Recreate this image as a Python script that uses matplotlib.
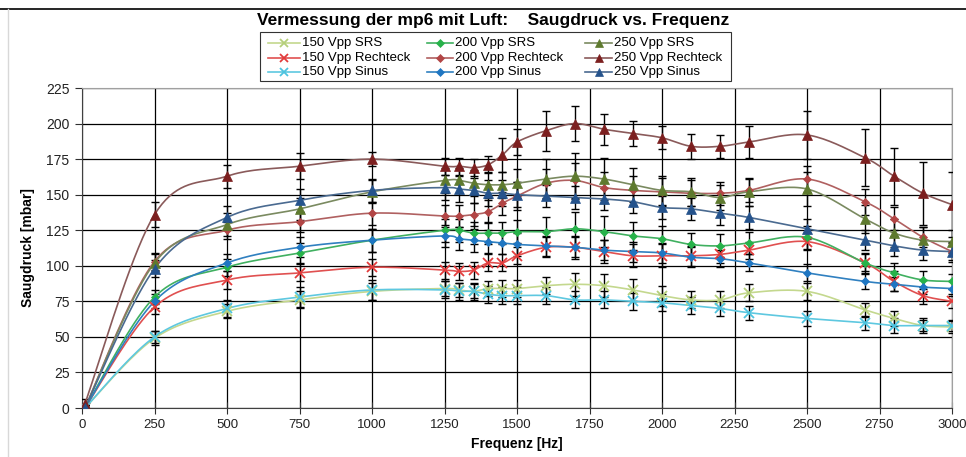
import numpy as np
import matplotlib
matplotlib.use("Agg")
import matplotlib.pyplot as plt
from matplotlib.lines import Line2D
from matplotlib.patches import Rectangle

plt.rcParams['font.family'] = ['Liberation Sans', 'DejaVu Sans']

freq = [10, 250, 500, 750, 1000, 1250, 1300, 1350, 1400, 1450, 1500, 1600, 1700,
        1800, 1900, 2000, 2100, 2200, 2300, 2500, 2700, 2800, 2900, 3000]

v150_srs = [0, 49, 68, 76, 82, 84, 83, 82, 84, 84, 84, 86, 87, 86, 83, 79, 76, 76, 81, 82, 69, 63, 58, 57]
v150_re  = [0, 71, 90, 95, 99, 97, 96, 97, 102, 102, 107, 113, 113, 110, 107, 107, 107, 108, 111, 117, 102, 89, 79, 75]
v150_sin = [0, 50, 70, 78, 83, 83, 82, 82, 80, 79, 79, 79, 76, 76, 75, 74, 72, 70, 67, 63, 60, 58, 58, 58]
v200_srs = [0, 78, 99, 109, 118, 125, 125, 123, 123, 123, 124, 124, 126, 124, 121, 119, 115, 114, 116, 120, 102, 95, 90, 89]
v200_re  = [0, 103, 125, 131, 137, 135, 135, 136, 138, 144, 149, 158, 160, 155, 153, 152, 151, 151, 153, 161, 145, 133, 120, 110]
v200_sin = [0, 75, 102, 113, 118, 121, 119, 118, 117, 116, 115, 114, 113, 111, 110, 109, 106, 105, 102, 95, 89, 87, 85, 84]
v250_srs = [0, 102, 129, 140, 152, 160, 160, 158, 157, 157, 158, 161, 163, 161, 157, 153, 152, 148, 152, 154, 133, 123, 118, 117]
v250_re  = [3, 136, 163, 170, 175, 170, 170, 169, 171, 178, 187, 195, 200, 196, 193, 190, 184, 184, 187, 192, 176, 163, 151, 143]
v250_sin = [0, 98, 134, 146, 153, 155, 154, 153, 151, 151, 150, 149, 148, 147, 145, 141, 140, 137, 134, 126, 118, 114, 111, 110]

e150_srs = [2, 5, 5, 6, 6, 5, 5, 5, 5, 6, 6, 6, 8, 8, 8, 7, 6, 6, 6, 6, 5, 5, 4, 4]
e150_re  = [2, 5, 6, 6, 6, 6, 6, 6, 6, 6, 6, 7, 8, 8, 8, 8, 7, 6, 6, 6, 6, 7, 6, 5]
e150_sin = [2, 4, 6, 7, 7, 6, 6, 6, 6, 6, 6, 6, 6, 6, 6, 6, 6, 5, 5, 5, 5, 5, 5, 4]
e200_srs = [2, 5, 6, 7, 8, 8, 8, 8, 8, 8, 8, 10, 12, 11, 10, 9, 8, 8, 8, 8, 7, 7, 6, 5]
e200_re  = [2, 6, 6, 7, 8, 8, 8, 8, 8, 8, 10, 10, 12, 11, 10, 10, 9, 8, 8, 9, 9, 8, 7, 6]
e200_sin = [2, 5, 6, 7, 8, 8, 8, 8, 8, 8, 8, 7, 7, 7, 7, 7, 7, 6, 6, 6, 5, 5, 5, 5]
e250_srs = [2, 6, 8, 8, 8, 9, 9, 9, 9, 9, 10, 14, 16, 15, 12, 10, 10, 9, 10, 12, 10, 10, 9, 8]
e250_re  = [3, 9, 8, 9, 5, 6, 6, 6, 6, 12, 9, 14, 12, 11, 9, 8, 9, 8, 11, 17, 20, 20, 22, 23]
e250_sin = [2, 6, 8, 8, 8, 9, 9, 9, 9, 9, 9, 8, 8, 8, 8, 8, 8, 8, 8, 7, 7, 7, 7, 7]

labels = ["150 Vpp SRS", "150 Vpp Rechteck", "150 Vpp Sinus",
          "200 Vpp SRS", "200 Vpp Rechteck", "200 Vpp Sinus",
          "250 Vpp SRS", "250 Vpp Rechteck", "250 Vpp Sinus"]
values = [v150_srs, v150_re, v150_sin, v200_srs, v200_re, v200_sin, v250_srs, v250_re, v250_sin]
errors = [e150_srs, e150_re, e150_sin, e200_srs, e200_re, e200_sin, e250_srs, e250_re, e250_sin]
colors = ["#b5cf7a", "#e23b3b", "#4cc3df", "#27b24a", "#b24545", "#1f76c2", "#5e7a2e", "#7c1f1f", "#25538c"]
linecols = ["#c4d88e", "#e05050", "#5ec8e0", "#40b060", "#b06060", "#3080c0", "#7a8a60", "#8a5a5a", "#4a6a90"]
markers = ["x", "x", "x", "D", "D", "D", "^", "^", "^"]
msizes = [7, 7, 7, 4.5, 4.5, 4.5, 6.5, 6.5, 6.5]


def smooth(x, y, n=20):
    x = np.asarray(x, float)
    y = np.asarray(y, float)
    P = np.column_stack([x, y])
    Pp = np.vstack([P[0], P, P[-1]])
    out = [P[0]]
    t = np.linspace(0, 1, n)[1:, None]
    for i in range(len(P) - 1):
        p0, p1, p2, p3 = Pp[i], Pp[i + 1], Pp[i + 2], Pp[i + 3]
        c1 = p1 + (p2 - p0) / 6.0
        c2 = p2 - (p3 - p1) / 6.0
        seg = ((1 - t) ** 3) * p1 + 3 * ((1 - t) ** 2) * t * c1 + 3 * (1 - t) * t ** 2 * c2 + t ** 3 * p2
        out.extend(seg)
    out = np.array(out)
    return out[:, 0], out[:, 1]


W, H = 966, 457
fig = plt.figure(figsize=(W / 100, H / 100), dpi=100)
ax = fig.add_axes([82 / W, 1 - 408 / H, 870 / W, 320 / H])

# figure border
fig.add_artist(Line2D([0, 1], [1 - 9 / H, 1 - 9 / H], transform=fig.transFigure, color="black", lw=1.2))
fig.add_artist(Line2D([8 / W, 8 / W], [0, 1 - 9 / H], transform=fig.transFigure, color="#d8d8d8", lw=1))

ax.set_xlim(0, 3000)
ax.set_ylim(0, 225)
ax.set_xticks(np.arange(0, 3001, 250))
ax.set_yticks(np.arange(0, 226, 25))
ax.grid(True, color="black", lw=0.9)
ax.set_axisbelow(True)
for s in ["top", "right"]:
    ax.spines[s].set_color("#a0a0a0")
for s in ["left", "bottom"]:
    ax.spines[s].set_color("#404040")
ax.tick_params(axis="x", direction="inout", length=8, labelsize=9.5, pad=4, colors="#303030")
ax.tick_params(axis="y", direction="out", length=5, labelsize=10, pad=4, colors="#303030")
for lab in ax.get_xticklabels() + ax.get_yticklabels():
    lab.set_color("#222222")

for v, e in zip(values, errors):
    ax.errorbar(freq, v, yerr=e, fmt="none", ecolor="black", elinewidth=1, capsize=3, capthick=1, zorder=3)
for v, c, lc, m, ms in zip(values, colors, linecols, markers, msizes):
    sx, sy = smooth(freq, v)
    ax.plot(sx, sy, color=lc, lw=1.2, zorder=4)
    mew = 1.3 if m == "x" else 0.5
    ax.plot(freq, v, linestyle="none", marker=m, color=c, markersize=ms, markeredgewidth=mew,
            markeredgecolor=c, zorder=5)

ax.set_xlabel("Frequenz [Hz]", fontsize=10, fontweight="bold", labelpad=4)
ax.set_ylabel("Saugdruck [mbar]", fontsize=10, fontweight="bold", labelpad=8)

fig.text(493 / W, 1 - 20 / H, "Vermessung der mp6 mit Luft:    Saugdruck vs. Frequenz",
         ha="center", va="center", fontsize=12.5, fontweight="bold")

# legend: frame + three columns at Excel-like positions
fig.add_artist(Rectangle((260 / W, 1 - 81 / H), (731 - 260) / W, 49 / H, transform=fig.transFigure,
                         facecolor="white", edgecolor="#333333", lw=0.8, zorder=1))
col_handle_x = [268, 427, 585]
col_text_x = [302, 455, 614]
row_y = [43, 58, 72]
for i, (c, lc, m, ms, lab) in enumerate(zip(colors, linecols, markers, msizes, labels)):
    col, row = divmod(i, 3)
    hx0 = col_handle_x[col]
    hx1 = col_text_x[col] - 2
    yy = 1 - row_y[row] / H
    mew = 1.3 if m == "x" else 0.5
    fig.add_artist(Line2D([hx0 / W, hx1 / W], [yy, yy], transform=fig.transFigure, color=lc, lw=1.2, zorder=2))
    fig.add_artist(Line2D([(hx0 + hx1) / 2 / W], [yy], transform=fig.transFigure, linestyle="none",
                          marker=m, markersize=ms * 0.85, markerfacecolor=c, markeredgecolor=c,
                          markeredgewidth=mew, zorder=3))
    fig.text(col_text_x[col] / W, yy, lab, ha="left", va="center", fontsize=9.5, zorder=3)

fig.savefig("out.png", dpi=100)
